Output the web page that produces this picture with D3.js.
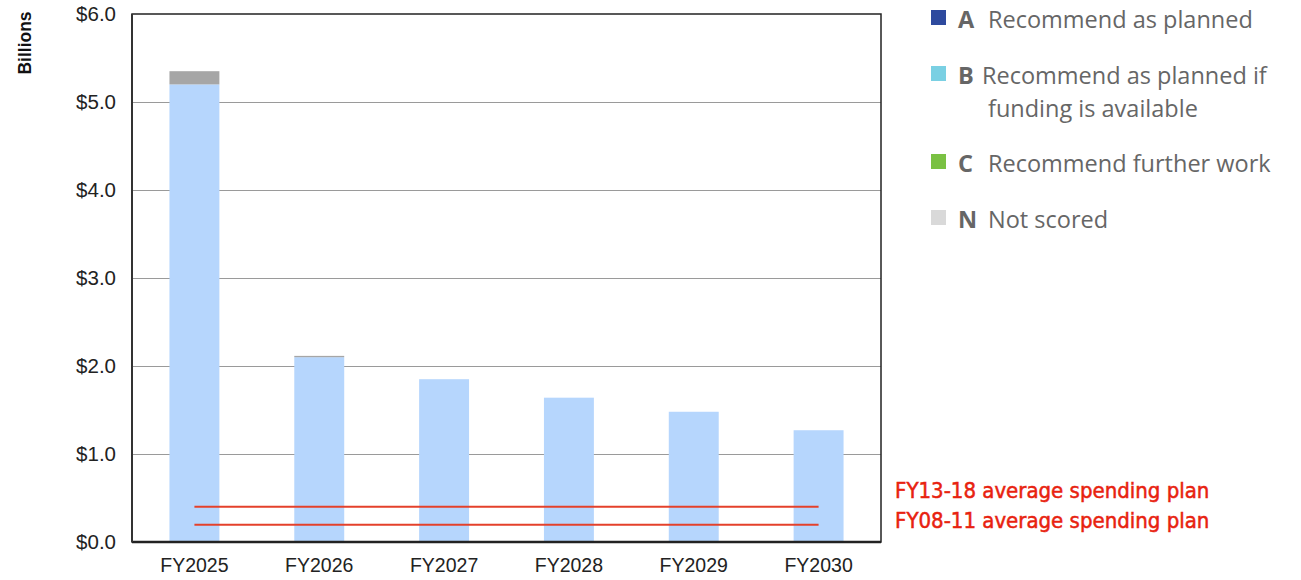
<!DOCTYPE html>
<html>
<head>
<meta charset="utf-8">
<script src="https://cdn.jsdelivr.net/npm/d3@7/dist/d3.min.js"></script>
<style>
  body { margin: 0; background: #fff; }
  svg { display: block; }
</style>
</head>
<body>
<svg id="canvas" width="1301" height="580"></svg>
<script>
// data
var years = ["FY2025", "FY2026", "FY2027", "FY2028", "FY2029", "FY2030"];
var planned_if_funding = [5.20, 2.10, 1.85, 1.64, 1.48, 1.27];   // B
var not_scored = [0.15, 0.015, 0, 0, 0, 0];                       // N
var y_ticks = [0, 1, 2, 3, 4, 5, 6];
var avg_lines = [
  { label: "FY13-18 average spending plan", value: 0.40 },
  { label: "FY08-11 average spending plan", value: 0.195 }
];
var legend_items = [
  { key: "A", lines: ["Recommend as planned"], color: "#2e4a9e" },
  { key: "B", lines: ["Recommend as planned if", "funding is available"], color: "#7ad0e3" },
  { key: "C", lines: ["Recommend further work"], color: "#7ac143" },
  { key: "N", lines: ["Not scored"], color: "#d9d9d9" }
];

var svg = d3.select('#canvas');
var plot = { left: 132, right: 881, top: 14, bottom: 542 };

var xScale = d3.scaleBand().domain(years).range([plot.left, plot.right]).paddingInner(0.6).paddingOuter(0.3);
var yScale = d3.scaleLinear().domain([0, 6]).range([plot.bottom, plot.top]);

// gridlines
svg.append('g').selectAll('line').data(y_ticks.filter(d => d > 0 && d < 6)).enter().append('line')
  .attr('x1', plot.left).attr('x2', plot.right)
  .attr('y1', d => Math.round(yScale(d)) + 0.5).attr('y2', d => Math.round(yScale(d)) + 0.5)
  .attr('stroke', '#9a9a9a').attr('stroke-width', 1);

// stacked bars
var rows = years.map((y, i) => ({ year: y, B: planned_if_funding[i], N: not_scored[i] }));
var stack = d3.stack().keys(["B", "N"])(rows);
var barColor = { B: "#b6d6fd", N: "#a6a6a6" };
svg.append('g').selectAll('g').data(stack).enter().append('g')
  .attr('fill', d => barColor[d.key])
  .selectAll('rect').data(d => d).enter().append('rect')
  .attr('x', d => xScale(d.data.year))
  .attr('width', xScale.bandwidth())
  .attr('y', d => yScale(d[1]))
  .attr('height', d => yScale(d[0]) - yScale(d[1]));

// frame
svg.append('rect')
  .attr('x', plot.left).attr('y', plot.top).attr('width', plot.right - plot.left).attr('height', plot.bottom - plot.top)
  .attr('fill', 'none').attr('stroke', '#222').attr('stroke-width', 1.5);
svg.append('line').attr('x1', plot.left).attr('x2', plot.right).attr('y1', plot.bottom).attr('y2', plot.bottom)
  .attr('stroke', '#222').attr('stroke-width', 2.5);
svg.append('line').attr('x1', plot.left).attr('x2', plot.left).attr('y1', plot.top).attr('y2', plot.bottom)
  .attr('stroke', '#333').attr('stroke-width', 2);

// axes
var yAxis = d3.axisLeft(yScale).tickValues(y_ticks).tickSize(0).tickPadding(16)
  .tickFormat(d => "$" + d3.format(".1f")(d));
svg.append('g').attr('transform', 'translate(' + plot.left + ',0)').call(yAxis)
  .call(g => g.select('.domain').remove())
  .selectAll('text').attr('font-family', 'Liberation Sans, Arial, sans-serif')
  .attr('font-size', 20.5).attr('fill', '#222');

var xAxis = d3.axisBottom(xScale).tickSize(0).tickPadding(16);
svg.append('g').attr('transform', 'translate(0,' + plot.bottom + ')').call(xAxis)
  .call(g => g.select('.domain').remove())
  .selectAll('text').attr('font-family', 'Liberation Sans, Arial, sans-serif')
  .attr('font-size', 19.5).attr('fill', '#222');

svg.append('text').text('Billions')
  .attr('transform', 'translate(31,43) rotate(-90)')
  .attr('text-anchor', 'middle')
  .attr('font-family', 'Liberation Sans, Arial, sans-serif')
  .attr('font-weight', 'bold').attr('font-size', 17.5).attr('fill', '#111');

// average lines
var lineStart = xScale(years[0]) + xScale.bandwidth() / 2;
var lineEnd = xScale(years[years.length - 1]) + xScale.bandwidth() / 2;
svg.append('g').selectAll('line').data(avg_lines).enter().append('line')
  .attr('x1', lineStart).attr('x2', lineEnd)
  .attr('y1', d => yScale(d.value)).attr('y2', d => yScale(d.value))
  .attr('stroke', '#e4412b').attr('stroke-width', 2);

svg.append('g').selectAll('text').data(avg_lines).enter().append('text')
  .text(d => d.label)
  .attr('x', 895).attr('y', (d, i) => 498 + i * 30)
  .attr('font-family', 'Liberation Sans Narrow, DejaVu Sans Condensed, sans-serif')
  .attr('font-stretch', 'condensed')
  .attr('font-size', 22).attr('fill', '#e8220f')
  .attr('stroke', '#e8220f').attr('stroke-width', 0.5);

// legend
var legendY = [10, 66, 154, 210];
var lg = svg.append('g').selectAll('g').data(legend_items).enter().append('g')
  .attr('transform', (d, i) => 'translate(931,' + legendY[i] + ')');
lg.append('rect').attr('width', 15).attr('height', 15).attr('fill', d => d.color);
lg.append('text').text(d => d.key)
  .attr('x', 27).attr('y', 18)
  .attr('font-family', 'Open Sans, Arial, sans-serif').attr('font-weight', 'bold')
  .attr('font-size', 23.5).attr('fill', '#666');
lg.each(function(d) {
  var t = d3.select(this).append('text')
    .attr('font-family', 'Open Sans, Arial, sans-serif')
    .attr('font-size', 23.5).attr('fill', '#666');
  d.lines.forEach((s, j) => {
    t.append('tspan').text(s).attr('x', (d.key == "B" && j == 0) ? 51 : 57).attr('y', 18 + j * 33);
  });
});
</script>
</body>
</html>
